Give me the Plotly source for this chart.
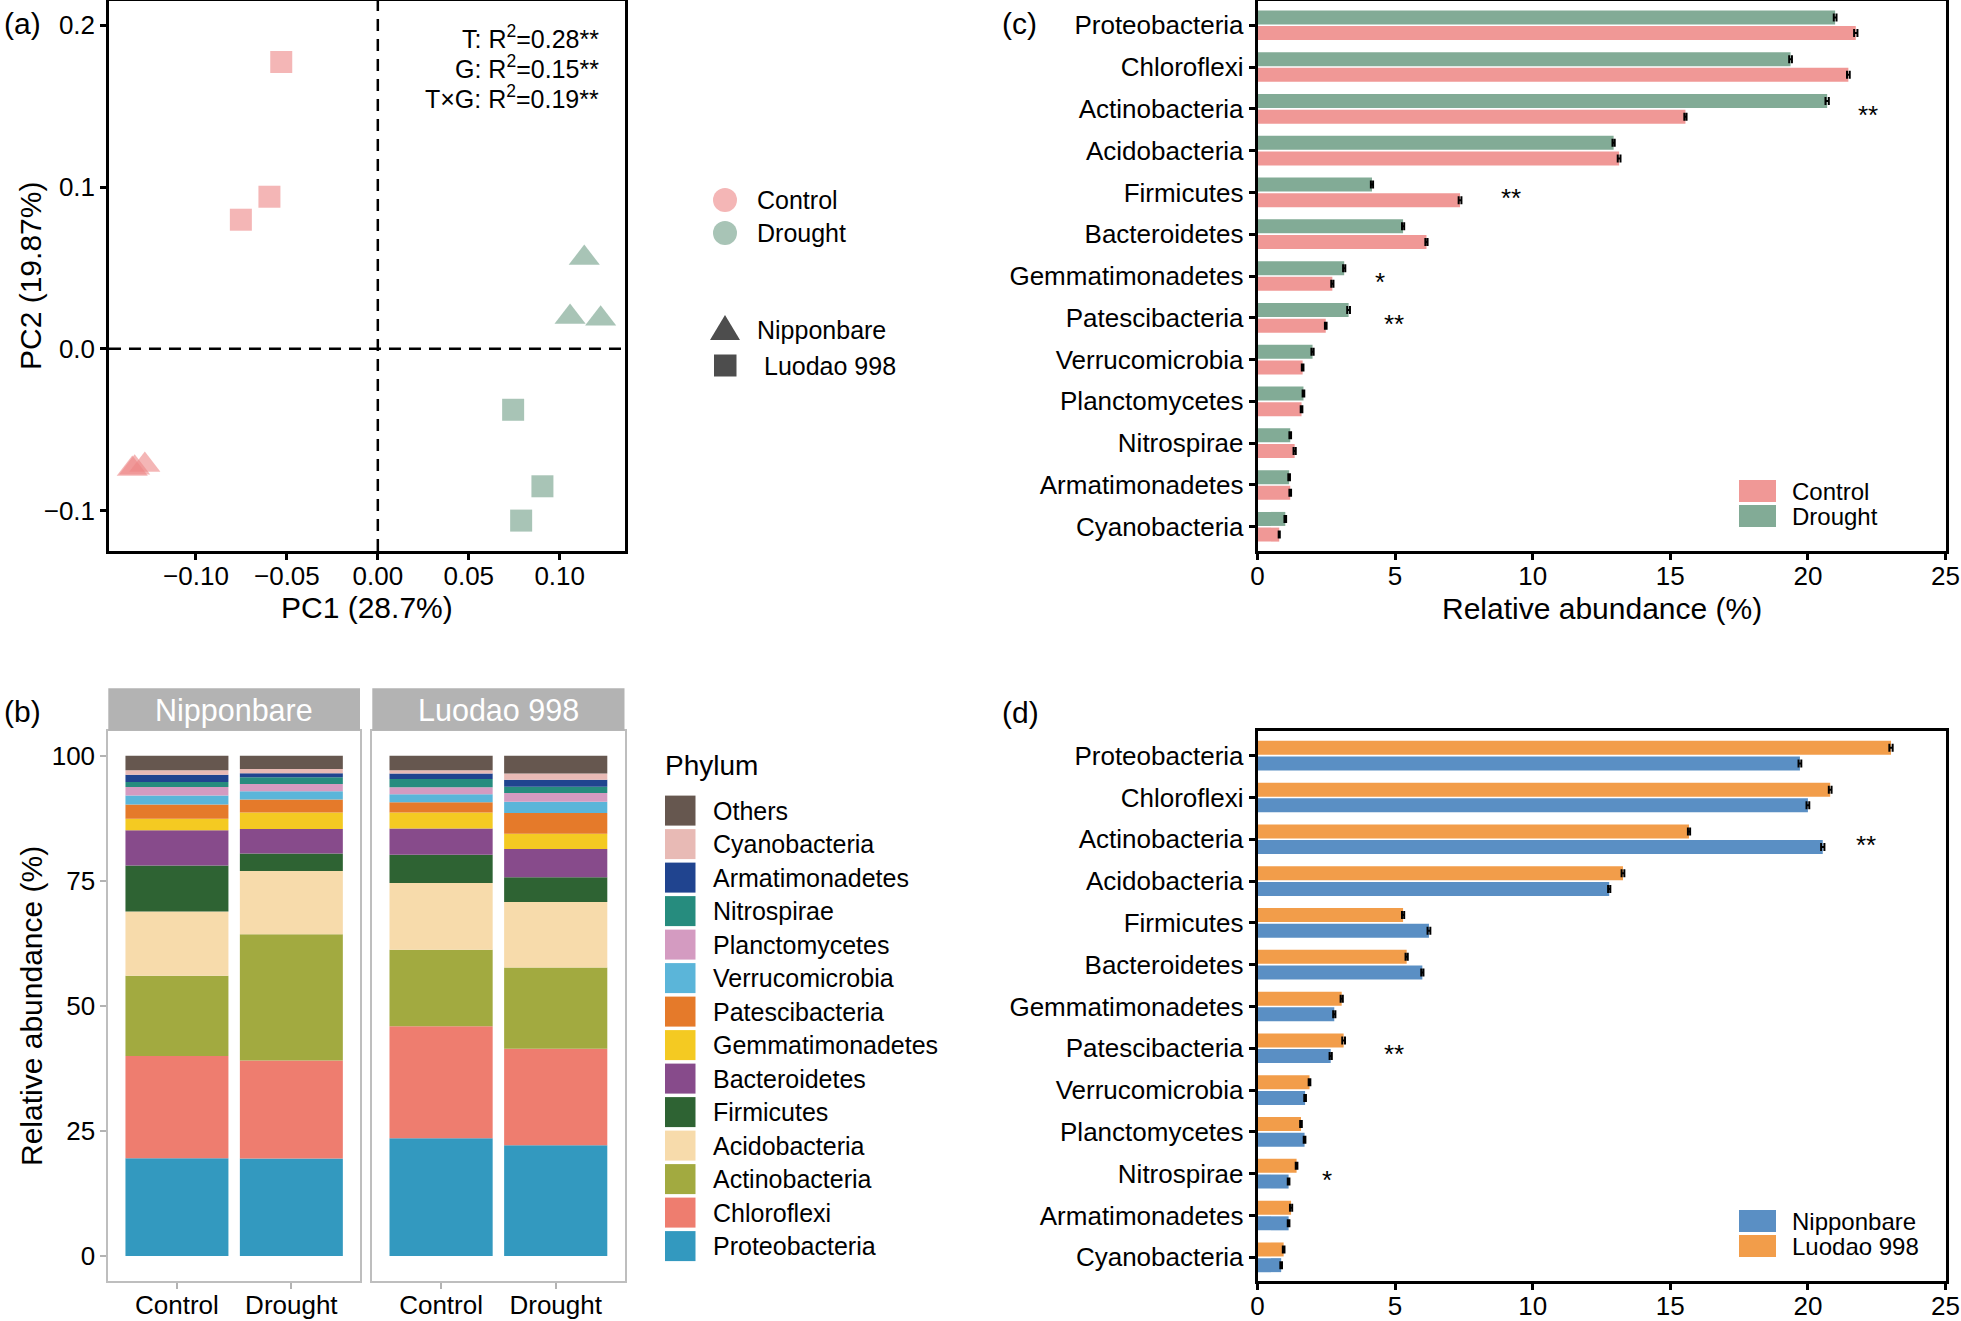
import numpy as np
import plotly.graph_objects as go

W, H = 1961, 1321
FONT = "Arial, 'Liberation Sans', Helvetica, sans-serif"

# ---- (a) PCoA scores ----
pc1_ctrl_nip = [-0.1350, -0.1337, -0.1281]
pc2_ctrl_nip = [-0.0743, -0.0736, -0.0718]
pc1_ctrl_luo = [-0.0531, -0.0596, -0.0753]
pc2_ctrl_luo = [0.1773, 0.0940, 0.0798]
pc1_dro_nip = [0.1135, 0.1057, 0.1225]
pc2_dro_nip = [0.0561, 0.0197, 0.0185]
pc1_dro_luo = [0.0744, 0.0905, 0.0788]
pc2_dro_luo = [-0.0377, -0.0850, -0.1062]
permanova_terms = ["T", "G", "T×G"]
permanova_r2 = ["0.28", "0.15", "0.19"]
permanova_sig = ["**", "**", "**"]

# ---- (b) stacked composition (bottom -> top) ----
stack_phyla = ["Proteobacteria", "Chloroflexi", "Actinobacteria", "Acidobacteria",
               "Firmicutes", "Bacteroidetes", "Gemmatimonadetes", "Patescibacteria",
               "Verrucomicrobia", "Planctomycetes", "Nitrospirae", "Armatimonadetes",
               "Cyanobacteria", "Others"]
stack_colors = ["#3399BF", "#EE7D6F", "#A2AA40", "#F7DBAB", "#2E6333", "#874B8B",
                "#F4CA22", "#E57A2A", "#5BB5D9", "#D49BC1", "#268C7E", "#20448F",
                "#E8BAB5", "#66574F"]
treatments = ["Control", "Drought"]
nip_control = [19.55, 20.45, 16.00, 12.85, 9.19, 7.08, 2.26, 2.85, 1.80, 1.73, 1.00, 1.44, 0.89, 2.91]
nip_drought = [19.47, 19.63, 25.19, 12.68, 3.49, 4.87, 3.31, 2.59, 1.67, 1.46, 1.34, 0.79, 0.86, 2.65]
luo_control = [23.53, 22.37, 15.33, 13.33, 5.64, 5.25, 3.19, 2.07, 1.59, 1.40, 1.66, 1.06, 0.67, 2.91]
luo_drought = [22.12, 19.31, 16.23, 13.09, 4.97, 5.64, 3.06, 4.15, 2.23, 1.74, 1.25, 1.41, 1.24, 3.56]

# ---- (c) treatment means ----
bar_phyla = ["Proteobacteria", "Chloroflexi", "Actinobacteria", "Acidobacteria",
             "Firmicutes", "Bacteroidetes", "Gemmatimonadetes", "Patescibacteria",
             "Verrucomicrobia", "Planctomycetes", "Nitrospirae", "Armatimonadetes",
             "Cyanobacteria"]
control_mean = [21.74, 21.47, 15.55, 13.14, 7.36, 6.14, 2.72, 2.48, 1.64, 1.60, 1.35, 1.19, 0.79]
drought_mean = [20.99, 19.37, 20.70, 12.94, 4.16, 5.29, 3.15, 3.31, 2.00, 1.67, 1.19, 1.15, 1.01]
control_se = [0.06, 0.05, 0.04, 0.05, 0.05, 0.04, 0.04, 0.03, 0.03, 0.03, 0.04, 0.03, 0.02]
drought_se = [0.05, 0.05, 0.06, 0.04, 0.04, 0.04, 0.04, 0.05, 0.04, 0.03, 0.03, 0.03, 0.03]
stars_c_phyla = ["Actinobacteria", "Firmicutes", "Gemmatimonadetes", "Patescibacteria"]
stars_c_text = ["**", "**", "*", "**"]
stars_c_x = [22.2, 9.2, 4.45, 4.95]

# ---- (d) genotype means ----
nip_mean = [19.71, 20.00, 20.54, 12.78, 6.23, 5.99, 2.79, 2.66, 1.73, 1.71, 1.13, 1.13, 0.86]
luo_mean = [23.02, 20.81, 15.68, 13.28, 5.29, 5.42, 3.06, 3.13, 1.89, 1.58, 1.42, 1.22, 0.95]
nip_se = [0.05, 0.05, 0.06, 0.04, 0.05, 0.04, 0.04, 0.04, 0.03, 0.03, 0.03, 0.03, 0.03]
luo_se = [0.06, 0.05, 0.04, 0.05, 0.04, 0.04, 0.04, 0.05, 0.03, 0.03, 0.03, 0.04, 0.03]
stars_d_phyla = ["Actinobacteria", "Patescibacteria", "Nitrospirae"]
stars_d_text = ["**", "**", "*"]
stars_d_x = [22.1, 4.95, 2.54]

PINK_PT = "rgba(237,133,133,0.6)"
GREEN_PT = "rgba(110,157,133,0.6)"
PINK_BAR = "#F09896"
GREEN_BAR = "#82AB96"
BLUE_BAR = "#5A8FC4"
ORANGE_BAR = "#F29D4A"


def fx(px):
    return px / W


def fy(py):
    return 1 - py / H


def box_axis(**kw):
    style = dict(
        showline=True, mirror=True, linecolor="black", linewidth=2.5,
        ticks="outside", ticklen=6, tickwidth=2.5, tickcolor="black",
        showgrid=False, zeroline=False, automargin=False,
        tickfont=dict(size=26, color="black", family=FONT),
    )
    style.update(kw)
    return style


def facet_axis(**kw):
    style = dict(
        showline=True, mirror=True, linecolor="#BEBEBE", linewidth=2,
        ticks="outside", ticklen=6, tickwidth=1.5, tickcolor="#B3B3B3",
        showgrid=False, zeroline=False, automargin=False,
        tickfont=dict(size=26, color="black", family=FONT),
    )
    style.update(kw)
    return style


def label(text, x, y, size=25, anchor="left", color="black", **kw):
    return dict(text=text, xref="paper", yref="paper", x=fx(x), y=fy(y),
                xanchor=anchor, yanchor="middle", showarrow=False,
                font=dict(size=size, color=color), **kw)


fig = go.Figure()

# (a) scatter
for xs, ys, sym, col, size in [
    (pc1_ctrl_nip, pc2_ctrl_nip, "triangle-up", PINK_PT, 27),
    (pc1_ctrl_luo, pc2_ctrl_luo, "square", PINK_PT, 22),
    (pc1_dro_nip, pc2_dro_nip, "triangle-up", GREEN_PT, 27),
    (pc1_dro_luo, pc2_dro_luo, "square", GREEN_PT, 22),
]:
    fig.add_trace(go.Scatter(
        x=xs, y=ys, mode="markers", xaxis="x", yaxis="y", showlegend=False,
        marker=dict(symbol=sym, size=size, color=col, line=dict(width=0)),
    ))

# (b) stacked bars, one facet per genotype
for axis_id, ctrl, dro in [("2", nip_control, nip_drought), ("3", luo_control, luo_drought)]:
    vals = np.array([ctrl, dro])
    bases = np.cumsum(vals, axis=1) - vals
    for i, phylum in enumerate(stack_phyla):
        fig.add_trace(go.Bar(
            x=treatments, y=vals[:, i], base=bases[:, i],
            xaxis="x" + axis_id, yaxis="y" + axis_id,
            width=0.9, offset=-0.45, marker=dict(color=stack_colors[i], line=dict(width=0)),
            showlegend=False, name=phylum,
        ))

# (c) and (d) grouped horizontal bars
err_style = dict(type="data", color="black", thickness=2, width=4)
for axis_id, series in [
    ("4", [(drought_mean, drought_se, GREEN_BAR, -0.355), (control_mean, control_se, PINK_BAR, 0.02)]),
    ("5", [(luo_mean, luo_se, ORANGE_BAR, -0.355), (nip_mean, nip_se, BLUE_BAR, 0.02)]),
]:
    for vals, se, col, off in series:
        fig.add_trace(go.Bar(
            x=vals, y=bar_phyla, orientation="h",
            xaxis="x" + axis_id, yaxis="y" + axis_id,
            width=0.335, offset=off, marker=dict(color=col, line=dict(width=0)),
            error_x=dict(array=se, **err_style), showlegend=False,
        ))

annotations = []
shapes = []

# (a) reference lines
shapes.append(dict(type="line", xref="x", yref="y domain", x0=0, x1=0, y0=0, y1=1,
                   line=dict(color="black", width=2.5, dash="12px,8px")))
shapes.append(dict(type="line", xref="x domain", yref="y", x0=0, x1=1, y0=0, y1=0,
                   line=dict(color="black", width=2.5, dash="12px,8px")))

for i, (term, r2, sig) in enumerate(zip(permanova_terms, permanova_r2, permanova_sig)):
    annotations.append(label(f"{term}: R<sup>2</sup>={r2}{sig}", 601, 37 + i * 30.2,
                             size=25, anchor="right"))

# (a) legends
legend_a_colors = [("Control", "#F4B6B6"), ("Drought", "#A8C4B6")]
for i, (name, col) in enumerate(legend_a_colors):
    cy = 200 + i * 33
    shapes.append(dict(type="circle", xref="paper", yref="paper",
                       x0=fx(713), x1=fx(737), y0=fy(cy + 12), y1=fy(cy - 12),
                       fillcolor=col, line=dict(width=0)))
    annotations.append(label(name, 755, cy))
tri = f"M {fx(710)},{fy(340)} L {fx(740)},{fy(340)} L {fx(725)},{fy(315)} Z"
shapes.append(dict(type="path", xref="paper", yref="paper", path=tri,
                   fillcolor="#4D4D4D", line=dict(width=0)))
shapes.append(dict(type="rect", xref="paper", yref="paper",
                   x0=fx(714), x1=fx(736.5), y0=fy(376.5), y1=fy(354.5),
                   fillcolor="#4D4D4D", line=dict(width=0)))
annotations.append(label("Nipponbare", 755, 330))
annotations.append(label("Luodao 998", 762, 366))

# (b) facet strips
for name, x0, x1 in [("Nipponbare", 108.3, 360), ("Luodao 998", 372.3, 624.5)]:
    shapes.append(dict(type="rect", xref="paper", yref="paper", x0=fx(x0), x1=fx(x1),
                       y0=fy(730.7), y1=fy(688.3), fillcolor="#B3B3B3", line=dict(width=0)))
    annotations.append(label(name, (x0 + x1) / 2, 710, size=30.5, anchor="center", color="white"))

# (b) legend
annotations.append(label("Phylum", 663, 765, size=28))
for k, i in enumerate(range(len(stack_phyla) - 1, -1, -1)):
    cy = 810.6 + k * 33.5
    shapes.append(dict(type="rect", xref="paper", yref="paper", x0=fx(665), x1=fx(695.5),
                       y0=fy(cy + 15), y1=fy(cy - 15), fillcolor=stack_colors[i], line=dict(width=0)))
    annotations.append(label(stack_phyla[i], 711, cy))

# (c)/(d) legends
for names, cols, top in [(["Control", "Drought"], [PINK_BAR, GREEN_BAR], 480),
                         (["Nipponbare", "Luodao 998"], [BLUE_BAR, ORANGE_BAR], 1210)]:
    for k, (name, col) in enumerate(zip(names, cols)):
        y0 = top + k * 25
        shapes.append(dict(type="rect", xref="paper", yref="paper", x0=fx(1739), x1=fx(1776),
                           y0=fy(y0 + 22), y1=fy(y0), fillcolor=col, line=dict(width=0)))
        annotations.append(label(name, 1790, y0 + 11, size=24))

# significance stars
for axis_id, ph, tx, xs in [("4", stars_c_phyla, stars_c_text, stars_c_x),
                            ("5", stars_d_phyla, stars_d_text, stars_d_x)]:
    for p, t, xv in zip(ph, tx, xs):
        annotations.append(dict(text=t, xref="x" + axis_id, yref="y" + axis_id, x=xv, y=p,
                                xanchor="center", yanchor="middle", showarrow=False, yshift=-6,
                                font=dict(size=26, color="black")))

# axis titles
annotations.append(label("PC1 (28.7%)", 367, 607, size=30, anchor="center"))
annotations.append(label("PC2 (19.87%)", 30, 276, size=30, anchor="center", textangle=-90))
annotations.append(label("Relative abundance (%)", 31, 1006, size=30, anchor="center", textangle=-90))
annotations.append(label("Relative abundance (%)", 1601.5, 608, size=30, anchor="center"))

# panel tags
for tag, x, y in [("(a)", 22, 23), ("(b)", 22, 711), ("(c)", 1019, 23), ("(d)", 1020, 712)]:
    annotations.append(label(tag, x, y, size=30, anchor="center"))

fig.update_layout(
    width=W, height=H,
    margin=dict(l=0, r=0, t=0, b=0, autoexpand=False),
    paper_bgcolor="white", plot_bgcolor="white",
    font=dict(family=FONT, color="black"),
    barmode="group",
    showlegend=False,
    shapes=shapes,
    annotations=annotations,
    xaxis=box_axis(domain=[fx(109), fx(625)], range=[-0.1478, 0.1359], anchor="y",
                   tickvals=[-0.1, -0.05, 0, 0.05, 0.1], tickformat=".2f",
                   ticklabelstandoff=-6),
    yaxis=box_axis(domain=[fy(551), fy(1)], range=[-0.125, 0.215], anchor="x",
                   tickvals=[-0.1, 0, 0.1, 0.2], tickformat=".1f"),
    xaxis2=facet_axis(domain=[fx(108.3), fx(360)], range=[-0.6, 1.6], anchor="y2",
                      type="category", categoryarray=treatments, ticklabelstandoff=-6),
    yaxis2=facet_axis(domain=[fy(1281), fy(730.7)], range=[-5, 105], anchor="x2",
                      tickvals=[0, 25, 50, 75, 100]),
    xaxis3=facet_axis(domain=[fx(372.3), fx(624.5)], range=[-0.6, 1.6], anchor="y3",
                      type="category", categoryarray=treatments, ticklabelstandoff=-6),
    yaxis3=facet_axis(domain=[fy(1281), fy(730.7)], range=[-5, 105], anchor="x3",
                      matches="y2", showticklabels=False, ticks=""),
    xaxis4=box_axis(domain=[fx(1257.5), fx(1945.5)], range=[0, 25], dtick=5, anchor="y4",
                    ticklabelstandoff=-6),
    yaxis4=box_axis(domain=[fy(551), fy(1)], range=[12.58, -0.58], anchor="x4",
                    type="category", categoryarray=bar_phyla),
    xaxis5=box_axis(domain=[fx(1257.5), fx(1945.5)], range=[0, 25], dtick=5, anchor="y5",
                    ticklabelstandoff=-6),
    yaxis5=box_axis(domain=[fy(1281), fy(731)], range=[12.567, -0.59], anchor="x5",
                    type="category", categoryarray=bar_phyla),
)

fig.write_html(
    "out.html",
    config={"displayModeBar": False},
    post_script="document.body.style.margin='0';document.body.style.padding='0';"
                "document.body.style.overflow='hidden';",
)
